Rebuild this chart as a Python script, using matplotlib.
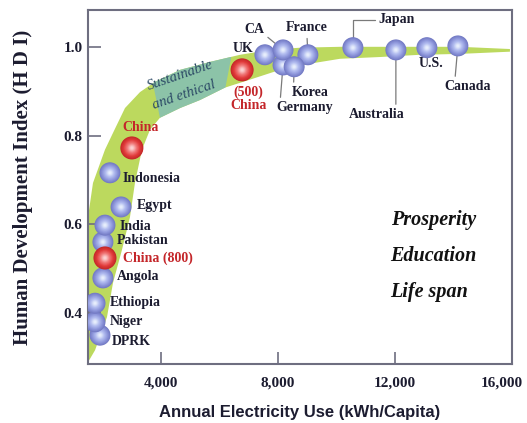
import numpy as np
import matplotlib
matplotlib.use('Agg')
import matplotlib.pyplot as plt
import matplotlib.transforms as mtrans
from matplotlib.colors import LinearSegmentedColormap

# ---- data ----
countries = ["Germany", "UK", "CA", "France", "Korea", "Japan", "Australia",
             "U.S.", "Canada", "China (500)", "China", "Indonesia", "Egypt",
             "Pakistan", "India", "Angola", "China (800)", "DPRK", "Niger",
             "Ethiopia"]
energy = [8170, 7550, 8170, 9020, 8550, 10560, 12030,
          13090, 14150, 6770, 3000, 2250, 2630,
          2010, 2080, 2010, 2080, 1910, 1740,
          1740]
hdi = [0.959, 0.982, 0.993, 0.982, 0.955, 0.998, 0.993,
       0.998, 1.002, 0.948, 0.772, 0.716, 0.639,
       0.560, 0.598, 0.479, 0.524, 0.350, 0.380,
       0.422]
is_china = [c.startswith("China") for c in countries]

# green band, upper/left and lower/right edges (energy, HDI)
band_up_x = [1500, 1500, 1670, 2080, 2355, 2765, 3280, 3790, 4650, 5675,
             6700, 7725, 8750, 10120, 12170, 14220, 15930]
band_up_y = [0.289, 0.616, 0.693, 0.768, 0.806, 0.862, 0.898, 0.921, 0.948,
             0.966, 0.982, 0.993, 0.998, 1.000, 1.000, 1.000, 0.995]
band_lo_x = [1500, 1740, 2150, 2355, 2660, 2935, 3105, 3345, 3620, 3960,
             4650, 5330, 6185, 7040, 8065, 9090, 10120, 11490, 12850, 14220,
             15930]
band_lo_y = [0.289, 0.316, 0.391, 0.468, 0.542, 0.616, 0.693, 0.768, 0.813,
             0.840, 0.862, 0.880, 0.908, 0.926, 0.948, 0.962, 0.973, 0.977,
             0.982, 0.984, 0.989]
# "sustainable and ethical" stretch of the band
teal_up = (3720, 6400)
teal_lo = (3960, 6200)

xticks = [4000, 8000, 12000, 16000]
yticks = [0.4, 0.6, 0.8, 1.0]
side_words = ["Prosperity", "Education", "Life span"]

# label placement: offset in pixels from sphere centre, alignment, leader relpos
labels = {
    "UK": (-22, 6, "center", None),
    "CA": (-29, 20, "center", (0.9, 0.3)),
    "France": (-1, 27, "center", (0.5, 0)),
    "Germany": (22, -43, "center", (0.06, 1)),
    "Korea": (16, -26, "center", (0.05, 1)),
    "Japan": (44, 28, "center", (0, 0.5)),
    "Australia": (-19, -65, "center", (0.84, 1)),
    "U.S.": (4, -16, "center", None),
    "Canada": (10, -41, "center", (0.22, 1)),
    "China (500)": (6, -29, "center", None),
    "China": (9, 20, "center", None),
    "Indonesia": (13, -6, "left", None),
    "Egypt": (16, 1, "left", None),
    "India": (15, -1, "left", None),
    "Pakistan": (14, 1, "left", None),
    "China (800)": (18, 0, "left", None),
    "Angola": (14, 1, "left", None),
    "Ethiopia": (15, 1, "left", None),
    "Niger": (15, 0, "left", None),
    "DPRK": (12, -6, "left", None),
}

SERIF = "Liberation Serif"
SANS = "Liberation Sans"
TXT = "#1c1c30"
RED = "#c4262a"
GREY = "#6e6e80"

fig = plt.figure(figsize=(5.27, 4.23), dpi=100)
ax = fig.add_axes([0.167, 0.1395, 0.8045, 0.8369])
ax.set_xlim(1500, 16000)
ax.set_ylim(0.285, 1.083)

# band
bx = np.concatenate([band_up_x, band_lo_x[::-1]])
by = np.concatenate([band_up_y, band_lo_y[::-1]])
ax.fill(bx, by, color="#bcd95e", lw=0, zorder=1)

tx_up = np.linspace(teal_up[0], teal_up[1], 30)
tx_lo = np.linspace(teal_lo[1], teal_lo[0], 30)
tx = np.concatenate([tx_up, tx_lo])
ty = np.concatenate([np.interp(tx_up, band_up_x, band_up_y),
                     np.interp(tx_lo, band_lo_x, band_lo_y)])
ax.fill(tx, ty, color="#8cc3a8", lw=0, zorder=1.5)

ax.text(4650, 0.935, "Sustainable", rotation=19, ha="center", va="center",
        family=SERIF, style="italic", fontsize=10.5, color="#2c4a66", zorder=2)
ax.text(4800, 0.892, "and ethical", rotation=19, ha="center", va="center",
        family=SERIF, style="italic", fontsize=10.5, color="#2c4a66", zorder=2)

# spheres
blue = LinearSegmentedColormap.from_list("b", ["#f2f8ff", "#b3bdf0", "#8f98dc", "#737ac4"])
red = LinearSegmentedColormap.from_list("r", ["#ffe4e4", "#f07a7a", "#e23c3c", "#c42828"])
for i, (c, x, y, ch) in enumerate(zip(countries, energy, hdi, is_china)):
    d = 16.6 if ch else 15.1
    cmap = red if ch else blue
    z = 3 + i * 0.01
    ax.scatter([x], [y], s=d ** 2, color=cmap(1.0), edgecolors="none", zorder=z)
    for f in np.linspace(0.95, 0.12, 14):
        ax.scatter([x], [y], s=(d * f) ** 2, color=cmap(f ** 1.3),
                   edgecolors="none", zorder=z + 0.0001)

# labels
for c, x, y, ch in zip(countries, energy, hdi, is_china):
    dx, dy, ha, rel = labels[c]
    txt = c
    if c == "China (500)":
        txt = "(500)\nChina"
    kw = {}
    if rel is not None:
        conn = "angle,angleA=0,angleB=90,rad=0" if c == "Japan" else "arc3"
        kw["arrowprops"] = dict(arrowstyle="-", color="#7a7a7a", lw=0.9,
                                relpos=rel, shrinkA=1, shrinkB=0,
                                connectionstyle=conn)
    ax.annotate(txt, xy=(x, y), xytext=(dx, dy), textcoords="offset pixels",
                ha=ha, va="center", family=SERIF, weight="bold",
                fontsize=10, color=RED if ch else TXT, linespacing=1.05,
                zorder=2, **kw)

for k, w in enumerate(side_words):
    ax.text(11850, 0.610 - k * 0.081, w, ha="left", va="center",
            family=SERIF, style="italic", weight="bold", fontsize=14.5,
            color="#111111")

# axes
ax.set_xticks(xticks)
ax.set_xticklabels([f"{t:,}" for t in xticks])
ax.set_yticks(yticks)
ax.set_yticklabels([f"{t:.1f}" for t in yticks])
ax.tick_params(direction="in", length=9, width=1.2, color=GREY,
               labelsize=11, labelcolor=TXT)
ax.tick_params(axis="x", pad=9)
ax.tick_params(axis="y", pad=4)
for lab in ax.get_xticklabels() + ax.get_yticklabels():
    lab.set_family(SERIF)
    lab.set_weight("bold")
# last x label sits a little inside the right edge
last = ax.get_xticklabels()[-1]
last.set_transform(last.get_transform() +
                   mtrans.ScaledTranslation(-10 / 100, 0, fig.dpi_scale_trans))
for s in ax.spines.values():
    s.set_color(GREY)
    s.set_linewidth(1.5)

ax.set_xlabel("Annual Electricity Use (kWh/Capita)", family=SANS,
              weight="bold", fontsize=12, color=TXT)
ax.xaxis.set_label_coords(0.5, -0.116)
ax.set_ylabel("Human Development Index (H D I)", family=SERIF,
              weight="bold", fontsize=15, color=TXT)
ax.yaxis.set_label_coords(-0.13, 0.5)

fig.savefig("out.png", dpi=100)
